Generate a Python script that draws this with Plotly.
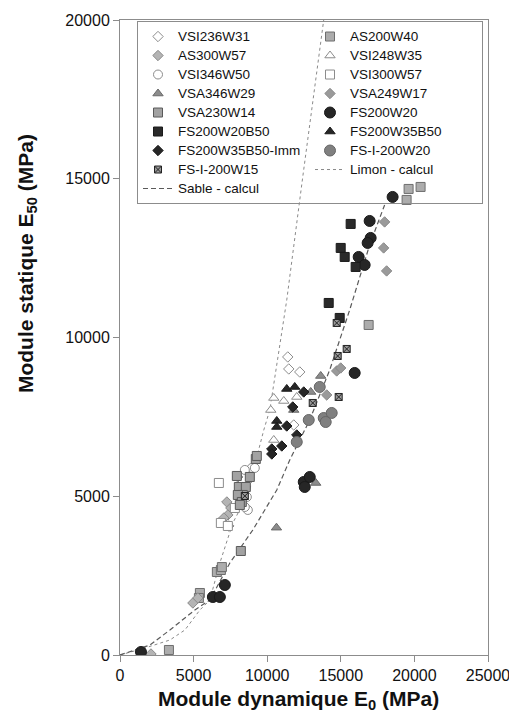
import plotly.graph_objects as go

# ---------------- data ----------------
vsi236w31_x = [11397, 11465, 12211, 11804]
vsi236w31_y = [9387, 9009, 8914, 7245]

as200w40_x = [19606, 20420, 19470, 16892, 6580, 6852, 6920, 5427, 5360, 3324]
as200w40_y = [14679, 14742, 14333, 10395, 2614, 2677, 2770, 1953, 1796, 158]

as300w57_x = [7259, 7530, 7327, 7055, 7394, 8005, 4952, 5290, 2103]
as300w57_y = [4820, 4631, 4410, 4316, 4064, 5607, 1638, 1796, 32]

vsi248w35_x = [10447, 11126, 10244, 12008, 10447]
vsi248w35_y = [8095, 8001, 7717, 8127, 6772]

vsi346w50_x = [8955, 8480, 9158, 8616, 8684, 8480]
vsi346w50_y = [5891, 5828, 5891, 4977, 4568, 4662]

vsi300w57_x = [6716, 6852, 7327, 7802]
vsi300w57_y = [5418, 4158, 4064, 4631]

vsa346w29_x = [13636, 12957, 11804, 13297, 10630]
vsa346w29_y = [8788, 8284, 7717, 5418, 4010]

vsa249w17_x = [17977, 17910, 18113, 14721, 14993, 14043]
vsa249w17_y = [13640, 12821, 12096, 8946, 9040, 8190]

vsa230w14_x = [7937, 8819, 8073, 8548, 8344, 8005, 8276, 8141, 9226, 9294, 8209]
vsa230w14_y = [5639, 5607, 5292, 5292, 5040, 5040, 4820, 4725, 6174, 6269, 3276]

fs200w20_x = [18520, 16960, 17028, 16824, 16214, 16620, 15943, 12482, 12890, 12550, 6309, 6784, 7123, 1425]
fs200w20_y = [14427, 13671, 13136, 12978, 12537, 12285, 8883, 5450, 5607, 5292, 1827, 1827, 2205, 95]

fs200w20b50_x = [15670, 14993, 15264, 16010, 14179, 14925]
fs200w20b50_y = [13577, 12821, 12537, 12222, 11088, 10616]

fs200w35b50_x = [11329, 11872, 10651, 10651]
fs200w35b50_y = [8379, 8442, 7371, 7182]

fs200w35b50imm_x = [12482, 11736, 11329, 12008, 10990, 10312, 10312]
fs200w35b50imm_y = [8284, 7812, 7213, 6930, 6583, 6489, 6331]

fsi200w20_x = [13568, 12822, 13839, 14382, 13975, 12008]
fsi200w20_y = [8442, 7402, 7465, 7623, 7339, 6710]

fsi200w15_x = [14722, 15400, 14789, 13093, 14857, 8480]
fsi200w15_y = [10458, 9639, 9418, 7938, 8127, 5008]

limon_x = [0, 1696, 3392, 4410, 5427, 6106, 6784, 7666, 8480, 8819, 9294, 9769, 10176, 11329, 12415, 13839]
limon_y = [0, 220, 473, 788, 1418, 1733, 2898, 4158, 4883, 5198, 6237, 7088, 7718, 11183, 15057, 20000]

sable_x = [0, 2035, 3392, 5088, 6106, 7462, 9023, 10651, 11533, 12890, 14246, 15603, 16960, 17977]
sable_y = [0, 315, 788, 1418, 1733, 2898, 3938, 5198, 6143, 7403, 8978, 10868, 12915, 14175]

x_ticks = [0, 5000, 10000, 15000, 20000, 25000]
y_ticks = [0, 5000, 10000, 15000, 20000]

# ---------------- figure ----------------
def lname(s):
    return "<span style='font-size:13.5px'>" + s + "</span>"

fig = go.Figure()

# calculated curves first so they lie under the markers
fig.add_trace(go.Scatter(x=limon_x, y=limon_y, mode="lines", name=lname("Limon - calcul"),
                         line=dict(color="#8a8a8a", width=1, dash="dot"), legendrank=16))
fig.add_trace(go.Scatter(x=sable_x, y=sable_y, mode="lines", name=lname("Sable - calcul"),
                         line=dict(color="#5a5a5a", width=1.2, dash="5px,3px"), legendrank=17))

series = [
    ("VSI236W31", vsi236w31_x, vsi236w31_y, "diamond", "white", "#8c8c8c", 8),
    ("AS200W40", as200w40_x, as200w40_y, "square", "#acacac", "#6e6e6e", 9),
    ("AS300W57", as300w57_x, as300w57_y, "diamond", "#b4b4b4", "#8a8a8a", 8),
    ("VSI248W35", vsi248w35_x, vsi248w35_y, "triangle-up", "white", "#8c8c8c", 9),
    ("VSI346W50", vsi346w50_x, vsi346w50_y, "circle", "white", "#8c8c8c", 9),
    ("VSI300W57", vsi300w57_x, vsi300w57_y, "square", "white", "#8c8c8c", 9),
    ("VSA346W29", vsa346w29_x, vsa346w29_y, "triangle-up", "#8c8c8c", "#6a6a6a", 9),
    ("VSA249W17", vsa249w17_x, vsa249w17_y, "diamond", "#9a9a9a", "#8a8a8a", 8),
    ("VSA230W14", vsa230w14_x, vsa230w14_y, "square", "#a2a2a2", "#5a5a5a", 9),
    ("FS200W20", fs200w20_x, fs200w20_y, "circle", "#262626", "#1a1a1a", 11),
    ("FS200W20B50", fs200w20b50_x, fs200w20b50_y, "square", "#2a2a2a", "#1a1a1a", 9),
    ("FS200W35B50", fs200w35b50_x, fs200w35b50_y, "triangle-up", "#262626", "#1a1a1a", 9),
    ("FS200W35B50-Imm", fs200w35b50imm_x, fs200w35b50imm_y, "diamond", "#262626", "#1a1a1a", 8),
    ("FS-I-200W20", fsi200w20_x, fsi200w20_y, "circle", "#808080", "#666666", 11),
    ("FS-I-200W15", fsi200w15_x, fsi200w15_y, "square-x", "#9a9a9a", "#222222", 7),
]

for i, (nm, xs, ys, sym, fill, edge, sz) in enumerate(series):
    fig.add_trace(go.Scatter(
        x=xs, y=ys, mode="markers", name=lname(nm), legendrank=i + 1,
        marker=dict(symbol=sym, color=fill, size=sz, line=dict(color=edge, width=1)),
    ))

axis_common = dict(
    showline=True, linecolor="#8c8c8c", linewidth=1, mirror=True,
    ticks="outside", ticklen=6, tickcolor="#8c8c8c",
    showgrid=False, zeroline=False,
    tickfont=dict(size=16, color="#111111", family="Liberation Sans, Arial, sans-serif"),
)

fig.update_xaxes(range=[0, 25000], tickvals=x_ticks, ticktext=[str(v) for v in x_ticks], **axis_common)
fig.update_yaxes(range=[0, 20000], tickvals=y_ticks, ticktext=[str(v) for v in y_ticks], **axis_common)

# the page body adds an 8px offset, so the figure is 8px smaller on each far side
fig.update_layout(
    width=509, height=706,
    margin=dict(l=112, r=29, t=12, b=59, autoexpand=False),
    paper_bgcolor="white", plot_bgcolor="white",
    font=dict(family="Liberation Sans, Arial, sans-serif", color="#111111"),
    hovermode=False,
    showlegend=True,
    legend=dict(
        orientation="h", x=0.0462, y=0.9984, xanchor="left", yanchor="top",
        entrywidth=127, entrywidthmode="pixels",
        bgcolor="rgba(255,255,255,0)", bordercolor="#8c8c8c", borderwidth=1,
        font=dict(size=12, color="#111111", family="Liberation Sans, Arial, sans-serif"),
        traceorder="normal",
    ),
    annotations=[
        dict(text="<b>Module dynamique E<sub>0</sub> (MPa)</b>", xref="paper", yref="paper",
             x=0.484, y=-0.071, xanchor="center", yanchor="middle", showarrow=False,
             font=dict(size=21, color="#111111")),
        dict(text="<b>Module statique E<sub>50</sub> (MPa)</b>", xref="paper", yref="paper",
             x=-0.253, y=0.617, xanchor="center", yanchor="middle", showarrow=False,
             textangle=-90, font=dict(size=21, color="#111111")),
    ],
)

fig.write_html("out.html")
